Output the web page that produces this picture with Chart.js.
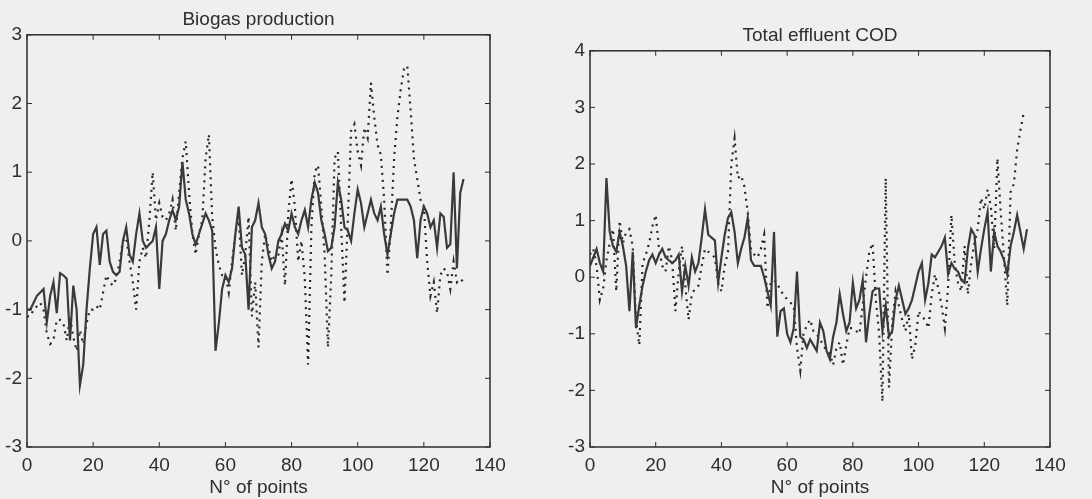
<!DOCTYPE html>
<html>
<head>
<meta charset="utf-8">
<script src="https://cdn.jsdelivr.net/npm/chart.js@4/dist/chart.umd.min.js"></script>
<style>
  html, body { margin: 0; padding: 0; background: #efefed; }
  #wrap { position: relative; width: 1092px; height: 499px; overflow: hidden; }
  .panel { position: absolute; top: 0; width: 546px; height: 499px; }
</style>
</head>
<body>
<div id="wrap">
  <div class="panel" style="left:0"><canvas id="biogasChart"></canvas></div>
  <div class="panel" style="left:546px"><canvas id="codChart"></canvas></div>
</div>
<script>
// Values (x = sample number)
const xTicks = [0, 20, 40, 60, 80, 100, 120, 140];
const biogasTicks = [-3, -2, -1, 0, 1, 2, 3];
const codTicks = [-3, -2, -1, 0, 1, 2, 3, 4];

// Biogas production - solid line
const biogasSolid = [
  -1.0, -1.0, -0.9, -0.8, -0.75, -0.7, -1.18, -0.8, -0.6, -1.05,
  -0.47, -0.5, -0.55, -1.45, -0.65, -1.0, -2.1, -1.8, -1.0, -0.4,
  0.1, 0.2, -0.35, 0.1, 0.15, -0.3, -0.45, -0.5, -0.45, 0.0,
  0.2, -0.2, -0.3, 0.1, 0.4, 0.0, -0.1, -0.05, 0.0, 0.2,
  -0.7, 0.0, 0.1, 0.3, 0.45, 0.3, 0.5, 1.15, 0.6, 0.4,
  0.1, -0.05, 0.1, 0.25, 0.4, 0.3, 0.15, -1.6, -1.2, -0.7,
  -0.5, -0.6, -0.4, 0.1, 0.5, -0.1, -0.2, -1.0, 0.2, 0.3,
  0.55, 0.2, 0.1, -0.2, -0.4, -0.3, 0.0, 0.1, 0.25, 0.15,
  0.4, 0.2, 0.1, 0.3, 0.45, 0.2, 0.6, 0.85, 0.7, 0.3,
  0.1, -0.15, -0.1, 0.2, 0.85, 0.6, 0.2, 0.15, 0.0, 0.4,
  0.75, 0.55, 0.2, 0.4, 0.6, 0.4, 0.3, 0.5, 0.1, -0.2,
  0.1, 0.4, 0.6, 0.6, 0.6, 0.6, 0.5, 0.3, -0.25, 0.3,
  0.5, 0.4, 0.2, 0.3, -0.1, 0.4, 0.35, -0.1, -0.05, 1.0,
  -0.4, 0.7, 0.9
];

// Biogas production - dotted line
const biogasDotted = [
  -1.1, -1.1, -1.0, -0.95, -0.9, -1.0, -1.35, -1.5, -1.45, -1.15,
  -1.15, -1.2, -1.45, -1.1, -1.4, -1.6, -1.3, -1.5, -1.2, -1.0,
  -1.0, -0.95, -1.0, -0.75, -0.5, -0.6, -0.65, -0.55, -0.3, 0.0,
  0.05, -0.3, -0.6, -1.0, -0.3, -0.1, -0.25, 0.3, 1.0, 0.3,
  0.55, 0.35, 0.3, 0.4, 0.6, 0.15, 0.7, 1.2, 1.45, 0.7,
  0.1, -0.2, 0.1, 0.3, 1.2, 1.55, 0.35, -0.1, -0.35, -0.5,
  -0.5, -0.75, -0.3, 0.1, 0.35, -0.5, -0.2, 0.35, -1.1, -0.6,
  -1.55, -0.3, 0.1, -0.1, -0.3, -0.2, -0.2, 0.1, -0.65, 0.4,
  0.9, 0.5, -0.3, 0.0, -0.55, -1.8, 0.2, 1.0, 1.1, 0.5,
  -0.2, -1.55, -0.5, 1.2, 1.3, 0.2, -0.9, 0.3, 1.6, 1.7,
  1.3, 1.1, 1.65, 1.5, 2.3, 1.8, 1.4, 1.25, 0.6, -0.5,
  0.2, 1.2, 1.8, 2.2, 2.5, 2.55, 1.9, 1.2, 0.9, 0.6,
  0.5, -0.3, -0.8, -0.6, -1.05, -0.5, -0.4, -0.45, -0.7, -0.3,
  -0.6, -0.55, -0.6
];

// Total effluent COD - solid line
const codSolid = [
  0.2, 0.35, 0.5, 0.25, 0.1, 1.75, 0.8, 0.55, 0.45, 0.8,
  0.55, 0.2, -0.6, 0.45, -0.9, -0.5, -0.15, 0.1, 0.3, 0.4,
  0.25, 0.4, 0.5, 0.35, 0.3, 0.25, 0.3, 0.4, -0.25, 0.2,
  -0.15, 0.35, 0.1, 0.25, 0.7, 1.2, 0.75, 0.7, 0.65, -0.1,
  0.35, 0.75, 1.05, 1.15, 0.8, 0.25, 0.5, 0.7, 1.05, 0.3,
  0.2, 0.2, 0.2, 0.0, -0.25, -0.5, 0.8, -1.05, -0.6, -0.55,
  -1.0, -1.15, -0.9, 0.1, -1.05, -1.1, -1.25, -1.1, -1.2, -1.3,
  -0.8, -0.95, -1.3, -1.45, -1.05, -0.8, -0.3, -0.65, -0.95, -0.8,
  -0.1, -0.55, -0.4, -0.05, -1.15, -0.65, -0.25, -0.2, -0.2, -0.95,
  -0.5, -1.05, -0.95, -0.4, -0.15, -0.4, -0.65, -0.55, -0.4, -0.15,
  0.1, 0.25, -0.4, -0.1, 0.4, 0.35, 0.45, 0.55, 0.7, 0.05,
  0.25, 0.15, 0.1, -0.05, -0.1, 0.5, 0.85, 0.75, 0.1, 0.5,
  0.85, 1.15, 0.1, 0.8, 0.55, 0.45, 0.3, 0.05, 0.55, 0.8,
  1.1, 0.8, 0.5, 0.85
];

// Total effluent COD - dotted line
const codDotted = [
  0.4, 0.5, 0.2, -0.4, -0.2, 0.3, 0.6, 0.85, -0.25, 1.0,
  0.6, 0.8, 0.85, 0.55, -0.75, -1.2, 0.25, 0.4, 0.6, 0.9,
  1.1, 0.5, 0.2, 0.1, 0.55, 0.3, -0.6, 0.1, 0.55, -0.15,
  -0.75, -0.3, -0.2, -0.15, 0.2, 0.5, 0.45, 0.4, 0.35, -0.1,
  -0.25, 0.2, 0.45, 2.0, 2.45, 1.75, 1.8, 1.6, 1.15, 0.5,
  0.4, 0.35, 0.5, 0.75, -0.55, -0.1, -0.05, -0.1, -0.25, -0.3,
  -0.4, -0.45, -0.5, -1.25, -1.65, -1.0, -0.85, -0.75, -0.95, -1.0,
  -1.1, -1.2, -1.3, -1.35, -1.55, -1.25, -1.15, -1.55, -1.2, -0.9,
  -0.9, -0.95, -1.0, -0.5, 0.0, 0.45, 0.6, -0.4, -1.0, -2.2,
  1.75, -1.95, -0.8, -0.25, -0.5, -0.75, -0.95, -0.65, -1.45, -1.2,
  -0.6, -0.7, -0.75, -0.9, -0.3, 0.05, -0.2, -0.5, -0.9, -0.15,
  1.1, 0.25, -0.1, -0.25, 0.55, -0.3, 0.25, 0.6, 0.85, 1.4,
  1.2, 1.55, 1.25, 0.5, 2.1, 1.15, 0.35, -0.5, 1.5, 1.65,
  2.25, 2.6, 2.9
];

const ink = '#2e2e2e';
const labelFont = { family: 'Liberation Sans', size: 19 };

// MATLAB style box with inward ticks on all four sides
const matlabFrame = {
  id: 'matlabFrame',
  afterDatasetsDraw(chart) {
    const { ctx, chartArea: a, scales } = chart;
    ctx.save();
    ctx.strokeStyle = ink;
    ctx.lineWidth = 1.5;
    ctx.strokeRect(a.left, a.top, a.right - a.left, a.bottom - a.top);
    ctx.lineWidth = 1;
    ctx.beginPath();
    scales.x.ticks.forEach(t => {
      const px = scales.x.getPixelForValue(t.value);
      ctx.moveTo(px, a.bottom); ctx.lineTo(px, a.bottom - 5);
      ctx.moveTo(px, a.top); ctx.lineTo(px, a.top + 5);
    });
    scales.y.ticks.forEach(t => {
      const py = scales.y.getPixelForValue(t.value);
      ctx.moveTo(a.left, py); ctx.lineTo(a.left + 5, py);
      ctx.moveTo(a.right, py); ctx.lineTo(a.right - 5, py);
    });
    ctx.stroke();
    ctx.restore();
  }
};

const toPoints = arr => arr.map((v, i) => ({ x: i, y: v }));

const makeChart = (id, title, solid, dotted, yTicks, pad) => {
  new Chart(document.getElementById(id), {
    type: 'line',
    data: {
      datasets: [{
        data: toPoints(solid),
        borderColor: '#3a3a3a',
        borderWidth: 2.2,
        pointRadius: 0,
        tension: 0
      }, {
        data: toPoints(dotted),
        borderColor: '#262626',
        borderWidth: 2.2,
        borderDash: [2, 5],
        pointRadius: 0,
        tension: 0
      }]
    },
    options: {
      responsive: true,
      maintainAspectRatio: false,
      animation: false,
      layout: { padding: { left: 0, right: pad.right, top: pad.top, bottom: 0 } },
      plugins: {
        legend: { display: false },
        tooltip: { enabled: false },
        title: {
          display: true,
          text: title,
          fullSize: false,
          color: ink,
          font: { family: 'Liberation Sans', size: 19, weight: 'normal' },
          padding: { top: 0, bottom: 4 }
        }
      },
      scales: {
        x: {
          type: 'linear',
          min: 0,
          max: 140,
          afterBuildTicks: s => { s.ticks = xTicks.map(v => ({ value: v })); },
          grid: { display: false, drawTicks: false },
          border: { display: false },
          ticks: { color: ink, font: labelFont, padding: 7, maxRotation: 0 },
          title: { display: true, text: 'N° of points', color: ink, font: labelFont, padding: 0 },
          afterFit: s => { s.height = 52; }
        },
        y: {
          min: yTicks[0],
          max: yTicks[yTicks.length - 1],
          afterBuildTicks: s => { s.ticks = yTicks.map(v => ({ value: v })); },
          grid: { display: false, drawTicks: false },
          border: { display: false },
          ticks: { color: ink, font: labelFont, padding: 5 },
          afterFit: s => { s.width = pad.yw; }
        }
      }
    },
    plugins: [matlabFrame]
  });
};

makeChart('biogasChart', 'Biogas production', biogasSolid, biogasDotted, biogasTicks,
  { right: 56, top: 8, yw: 27 });
makeChart('codChart', 'Total effluent COD', codSolid, codDotted, codTicks,
  { right: 42, top: 24, yw: 44 });
</script>
</body>
</html>
